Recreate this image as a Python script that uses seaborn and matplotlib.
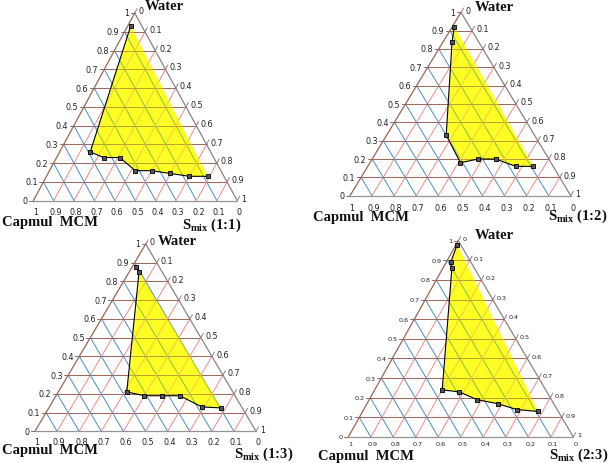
import numpy as np
import pandas as pd
import matplotlib.pyplot as plt
import seaborn as sns

# boundary points of the yellow region
# (water and S_mix fractions; Capmul MCM = 1 - water - smix)
water_11 = [0.93, 0.26, 0.23, 0.23, 0.16, 0.16, 0.145, 0.13, 0.13]
smix_11 = [0.015, 0.15, 0.23, 0.31, 0.42, 0.50, 0.60, 0.70, 0.79]
water_12 = [0.92, 0.84, 0.33, 0.18, 0.20, 0.20, 0.16, 0.16]
smix_12 = [0.01, 0.04, 0.27, 0.41, 0.48, 0.56, 0.67, 0.75]
water_13 = [0.875, 0.85, 0.21, 0.19, 0.19, 0.19, 0.13, 0.125]
smix_13 = [0.02, 0.045, 0.31, 0.40, 0.48, 0.56, 0.69, 0.78]
water_23 = [0.98, 0.89, 0.86, 0.24, 0.23, 0.19, 0.17, 0.14, 0.13]
smix_23 = [0.005, 0.02, 0.04, 0.30, 0.38, 0.48, 0.58, 0.68, 0.78]
ratios = ['1:1', '1:2', '1:3', '2:3']

tick_values = [0.0, 0.1, 0.2, 0.3, 0.4, 0.5, 0.6, 0.7, 0.8, 0.9, 1.0]
tick_labels = ['0', '0.1', '0.2', '0.3', '0.4', '0.5', '0.6', '0.7', '0.8', '0.9', '1']

# triangle vertices in pixels: (left x, bottom y, right x, top x, top y)
layout = [
    (33.3, 201.7, 237.3, 134.7, 14.0),
    (350.0, 196.7, 570.7, 461.0, 13.3),
    (35.0, 432.3, 256.0, 145.7, 245.0),
    (348.3, 438.0, 573.3, 458.3, 241.7),
]
# label offsets in px: water (dx, dy), capmul (dx, dy), smix (dx, dy)
label_offsets = [
    ((10, 7), (-31, -21), (4, -24)),
    ((14, 6), (-37, -21), (37, -20)),
    ((12, 3), (-33, -18), (37, -22)),
    ((16, 6), (-30, -19), (35, -17)),
]
bottom_gap = [11, 12, 10, 7]
tick_font = [5.8, 5.8, 5.8, 4.6]
marker_size = [10, 10, 10, 7]

FW, FH = 609, 464

sns.set_theme(style='white')
plt.rcParams['font.family'] = ['DejaVu Sans']
plt.rcParams['mathtext.fontset'] = 'custom'
plt.rcParams['mathtext.rm'] = 'Liberation Serif:bold'
plt.rcParams['mathtext.it'] = 'Liberation Serif:bold'
plt.rcParams['mathtext.bf'] = 'Liberation Serif:bold'

fig = plt.figure(figsize=(FW / 100, FH / 100), dpi=100)
fig.patch.set_facecolor('white')

BROWN = '#9a6656'
BLUE = '#4a8cc6'
RED = '#f28a8a'
EDGE_R = '#8c8282'
EDGE_B = '#959595'
# the same grid seen through the yellow region
BROWN_Y = '#c0a032'
BLUE_Y = '#86c040'
RED_Y = '#f8c83a'
YELLOW = '#ffff26'

panels = [(water_11, smix_11), (water_12, smix_12), (water_13, smix_13), (water_23, smix_23)]

for i, (water, smix) in enumerate(panels):
    bx, by, rx, tx_px, ty = layout[i]
    W = rx - bx
    H = by - ty
    tx = (tx_px - bx) / W
    ax = fig.add_axes([bx / FW, 1 - by / FH, W / FW, H / FH])

    def cart(w, s):
        return s + w * tx, w

    def px(dx, dy):
        return dx / W, dy / H

    df = pd.DataFrame({'water': water, 'smix': smix})
    df['x'] = df['smix'] + df['water'] * tx
    df['y'] = df['water']

    region = ax.fill(df['x'], df['y'], color=YELLOW, lw=0, zorder=2)[0]

    lw = 0.7
    # grid lines, plain and tinted inside the yellow region
    for v in tick_values[1:-1]:
        segs = [
            (cart(v, 0), cart(v, 1 - v), BROWN, BROWN_Y),
            (cart(0, 1 - v), cart(1 - v, 0), BLUE, BLUE_Y),
            (cart(0, v), cart(1 - v, v), RED, RED_Y),
        ]
        for (x0, y0), (x1, y1), c, cy in segs:
            ax.plot([x0, x1], [y0, y1], color=c, lw=lw, zorder=1, clip_on=False)
            ln, = ax.plot([x0, x1], [y0, y1], color=cy, lw=lw, zorder=2.5)
            ln.set_clip_path(region)

    # triangle edges
    ax.plot([0, tx], [0, 1], color=BROWN, lw=0.9, zorder=3, clip_on=False)
    ax.plot([tx, 1], [1, 0], color=EDGE_R, lw=0.9, zorder=3, clip_on=False)
    ax.plot([0, 1], [0, 0], color=EDGE_B, lw=0.9, zorder=3, clip_on=False)

    # tick direction on the right side, parallel to the left edge
    rdir = np.array([tx * W, H]); rdir = rdir / np.hypot(*rdir) * 5
    fs = tick_font[i]
    for v, lab in zip(tick_values, tick_labels):
        # left axis: water
        x0, y0 = cart(v, 0)
        dx, dy = px(-4, 0)
        ax.plot([x0, x0 + dx], [y0, y0 + dy], color=BROWN, lw=lw, clip_on=False)
        ax.annotate(lab, (x0 + dx, y0 + dy), xytext=(-1.2, 0), textcoords='offset points',
                    ha='right', va='center', fontsize=fs, color='#222222', annotation_clip=False)
        # right axis: smix
        x0, y0 = cart(1 - v, v)
        dx, dy = px(*rdir)
        ax.plot([x0, x0 + dx], [y0, y0 + dy], color=EDGE_R, lw=lw, clip_on=False)
        ax.annotate(lab, (x0 + dx, y0 + dy), xytext=(1.2, -1.5), textcoords='offset points',
                    ha='left', va='center', fontsize=fs, color='#222222', annotation_clip=False)
        # bottom axis: capmul
        x0, y0 = cart(0, 1 - v)
        ax.annotate(lab, (x0, y0), xytext=(1.5, -bottom_gap[i] * 0.72), textcoords='offset points',
                    ha='center', va='center', fontsize=fs, color='#222222', annotation_clip=False)

    sns.lineplot(data=df, x='x', y='y', sort=False, estimator=None, color='black',
                 lw=0.8, ax=ax, zorder=4)
    sns.scatterplot(data=df, x='x', y='y', marker='s', s=marker_size[i], color='#555555',
                    edgecolor='black', linewidth=0.6, ax=ax, zorder=5)
    ax.set_xlim(0, 1)
    ax.set_ylim(0, 1)
    ax.axis('off')

    (wdx, wdy), (cdx, cdy), (sdx, sdy) = label_offsets[i]
    serif = dict(family='Liberation Serif', weight='bold', fontsize=10.5, color='#111111')
    ax.annotate('Water', (tx, 1), xytext=(wdx * 0.72, wdy * 0.72), textcoords='offset points',
                ha='left', va='center', annotation_clip=False, **serif)
    ax.annotate('Capmul  MCM', (0, 0), xytext=(cdx * 0.72, cdy * 0.72), textcoords='offset points',
                ha='left', va='center', annotation_clip=False, **serif)
    ax.annotate(r'S$_{\rm mix}$ (' + ratios[i] + ')', (1, 0), xytext=(sdx * 0.72, sdy * 0.72),
                textcoords='offset points', ha='right', va='center', annotation_clip=False, **serif)

fig.savefig('out.png', dpi=100, facecolor='white')
